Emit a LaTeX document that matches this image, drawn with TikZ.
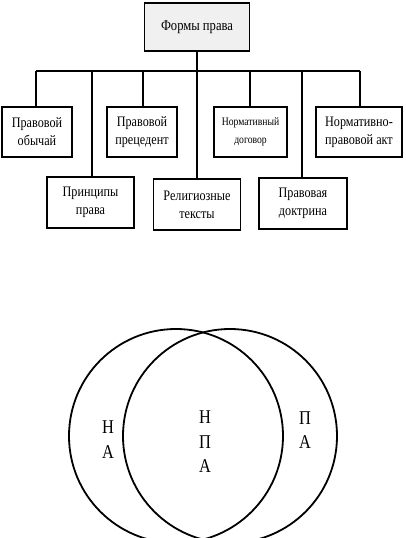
\documentclass[tikz,border=0pt]{standalone}
\usepackage{fontspec}
\setmainfont[FakeStretch=0.84]{Liberation Serif}
\begin{document}
\begin{tikzpicture}[x=1pt,y=-1pt,
  box/.style={draw,line width=1.8pt,inner sep=0pt,align=center,font=\fontsize{14.5}{18}\selectfont},
  conn/.style={line width=1.8pt},
  venn/.style={line width=1.8pt},
  lbl/.style={font=\fontsize{19.5}{22}\selectfont,inner sep=0pt}]
\useasboundingbox (0,0) rectangle (405,538);
\begin{scope}
\clip (0,0) rectangle (405,538);
% top
\node[box,fill=gray!12,minimum width=105pt,minimum height=48pt,font=\fontsize{15}{18}\selectfont] (top) at (197,27) {Формы права};
% row 1
\node[box,minimum width=70pt,minimum height=50pt] (b1) at (37,132) {Правовой\\обычай};
\node[box,minimum width=70pt,minimum height=50pt] (b2) at (142,132) {Правовой\\прецедент};
\node[box,minimum width=73pt,minimum height=50pt,font=\fontsize{11.5}{18}\selectfont] (b3) at (250.5,132) {Нормативный\\договор};
\node[box,minimum width=86pt,minimum height=50pt] (b4) at (359,132) {Нормативно-\\правовой акт};
% row 2
\node[box,minimum width=87pt,minimum height=51pt] (c1) at (90.5,202.5) {Принципы\\права};
\node[box,minimum width=87pt,minimum height=51pt] (c2) at (197,204.5) {Религиозные\\тексты};
\node[box,minimum width=88pt,minimum height=51pt] (c3) at (303,203.5) {Правовая\\доктрина};
% bus
\coordinate (bl) at (36,71);
\coordinate (br) at (360,71);
\draw[conn] (bl) -- (br);
\draw[conn] (top.south) -- (c2.north);
\draw[conn] (bl) -- (bl |- b1.north);
\draw[conn] (br) -- (br |- b4.north);
\draw[conn] (143,71) -- (143,107);
\draw[conn] (250,71) -- (250,107);
\draw[conn] (92,71) -- (92,177);
\draw[conn] (302,71) -- (302,178);
% venn
\node[circle,draw,venn,minimum size=214pt,inner sep=0pt] (L) at (176,436) {};
\node[circle,draw,venn,minimum size=214pt,inner sep=0pt] (R) at (230,436) {};
\node[lbl] (l1) at (108,427) {Н};
\node[lbl] (l2) at (108,452) {А};
\node[lbl] (m1) at (205,417) {Н};
\node[lbl] (m2) at (205,442) {П};
\node[lbl] (m3) at (205,466) {А};
\node[lbl] (r1) at (305,418) {П};
\node[lbl] (r2) at (305,442) {А};
\end{scope}
\end{tikzpicture}
\end{document}
